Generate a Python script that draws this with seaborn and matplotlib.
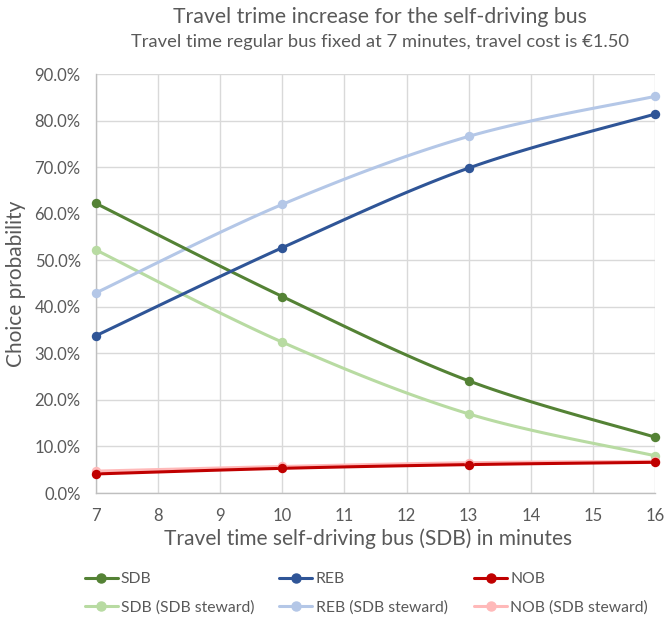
import numpy as np
import pandas as pd
import matplotlib
matplotlib.use("Agg")
import matplotlib.pyplot as plt
import seaborn as sns
from matplotlib.ticker import PercentFormatter
from matplotlib.lines import Line2D

# Travel time of the self-driving bus (minutes)
travel_time = [7, 10, 13, 16]

# Choice probabilities (%)
sdb = [62.2, 42.2, 24.1, 12.0]
reb = [33.8, 52.7, 69.8, 81.4]
nob = [4.1, 5.3, 6.1, 6.6]
sdb_steward = [52.2, 32.4, 17.0, 8.0]
reb_steward = [43.0, 62.0, 76.6, 85.2]
nob_steward = [4.7, 5.7, 6.5, 6.8]

series_names = ["SDB", "REB", "NOB",
                "SDB (SDB steward)", "REB (SDB steward)", "NOB (SDB steward)"]
series_values = [sdb, reb, nob, sdb_steward, reb_steward, nob_steward]
colors = ["#548235", "#2F5597", "#C00000", "#B8DBA2", "#B4C7E7", "#FFB9B9"]

x_ticks = list(range(7, 17))
y_ticks = [0, 10, 20, 30, 40, 50, 60, 70, 80, 90]


def smooth_curve(xs, ys, n=40):
    """Bezier smoothing through every point (Catmull-Rom style control points)."""
    pts = np.column_stack([xs, ys]).astype(float)
    ext = np.vstack([pts[0], pts, pts[-1]])
    out = []
    t = np.linspace(0, 1, n)[:, None]
    for i in range(len(pts) - 1):
        p0, p1, p2, p3 = ext[i], ext[i + 1], ext[i + 2], ext[i + 3]
        c1 = p1 + (p2 - p0) / 6.0
        c2 = p2 - (p3 - p1) / 6.0
        seg = ((1 - t) ** 3) * p1 + 3 * ((1 - t) ** 2) * t * c1 \
            + 3 * (1 - t) * t ** 2 * c2 + t ** 3 * p2
        out.append(seg if i == 0 else seg[1:])
    arr = np.vstack(out)
    return arr[:, 0], arr[:, 1]


sns.set_theme(style="white")
plt.rcParams["font.family"] = ["Lato", "DejaVu Sans"]

fig = plt.figure(figsize=(6.65, 6.24), dpi=100)
ax = fig.add_axes([0.1444, 0.2099, 0.8406, 0.6715])

# light series first so the dark ones sit on top
order = [3, 4, 5, 0, 1, 2]
for i in order:
    name, vals, col = series_names[i], series_values[i], colors[i]
    sx, sy = smooth_curve(travel_time, vals)
    curve = pd.DataFrame({"x": sx, "y": sy})
    sns.lineplot(data=curve, x="x", y="y", ax=ax, color=col, linewidth=2.2,
                 sort=False, estimator=None, zorder=3)
    pts = pd.DataFrame({"x": travel_time, "y": vals})
    sns.scatterplot(data=pts, x="x", y="y", ax=ax, color=col, s=46,
                    edgecolor=col, linewidth=0, zorder=4, clip_on=False)

ax.set_xlim(7, 16)
ax.set_ylim(0, 90)
ax.set_xticks(x_ticks)
ax.set_yticks(y_ticks)
ax.yaxis.set_major_formatter(PercentFormatter(decimals=1))
ax.grid(True, color="#D9D9D9", linewidth=1.0)
ax.set_axisbelow(True)
for side in ["top", "right"]:
    ax.spines[side].set_visible(False)
ax.spines["left"].set_color("#BFBFBF")
ax.spines["bottom"].set_color("#BFBFBF")
ax.spines["left"].set_linewidth(1.0)
ax.spines["bottom"].set_linewidth(1.0)
ax.tick_params(axis="both", length=0, labelsize=12, labelcolor="#595959")
ax.tick_params(axis="x", pad=11)
ax.tick_params(axis="y", pad=11)

ax.set_xlabel("Travel time self-driving bus (SDB) in minutes",
              fontsize=15.1, color="#595959", labelpad=5)
ax.xaxis.set_label_coords(0.486, -0.085)
ax.set_ylabel("Choice probability", fontsize=15, color="#595959", labelpad=6)

fig.text(0.571, 0.972, "Travel trime increase for the self-driving bus",
         ha="center", va="center", fontsize=15.3, color="#595959")
fig.text(0.571, 0.933,
         "Travel time regular bus fixed at 7 minutes, travel cost is \u20ac1.50",
         ha="center", va="center", fontsize=13.2, color="#595959")

# legend: one column per outcome, dark series on top, steward series below
column_x = [0.106, 0.399, 0.692]
for col_idx, x0 in enumerate(column_x):
    idx = [col_idx, col_idx + 3]
    handles = [Line2D([0], [0], color=colors[i], linewidth=2.2, marker="o",
                      markersize=6.5) for i in idx]
    labels = [series_names[i] for i in idx]
    fig.legend(handles, labels, loc="center left",
               bbox_to_anchor=(x0, 0.049), ncol=1, frameon=False,
               fontsize=11.3, labelcolor="#595959", handlelength=2.1,
               handletextpad=0.2, labelspacing=0.9)

fig.savefig("out.png", dpi=100)
